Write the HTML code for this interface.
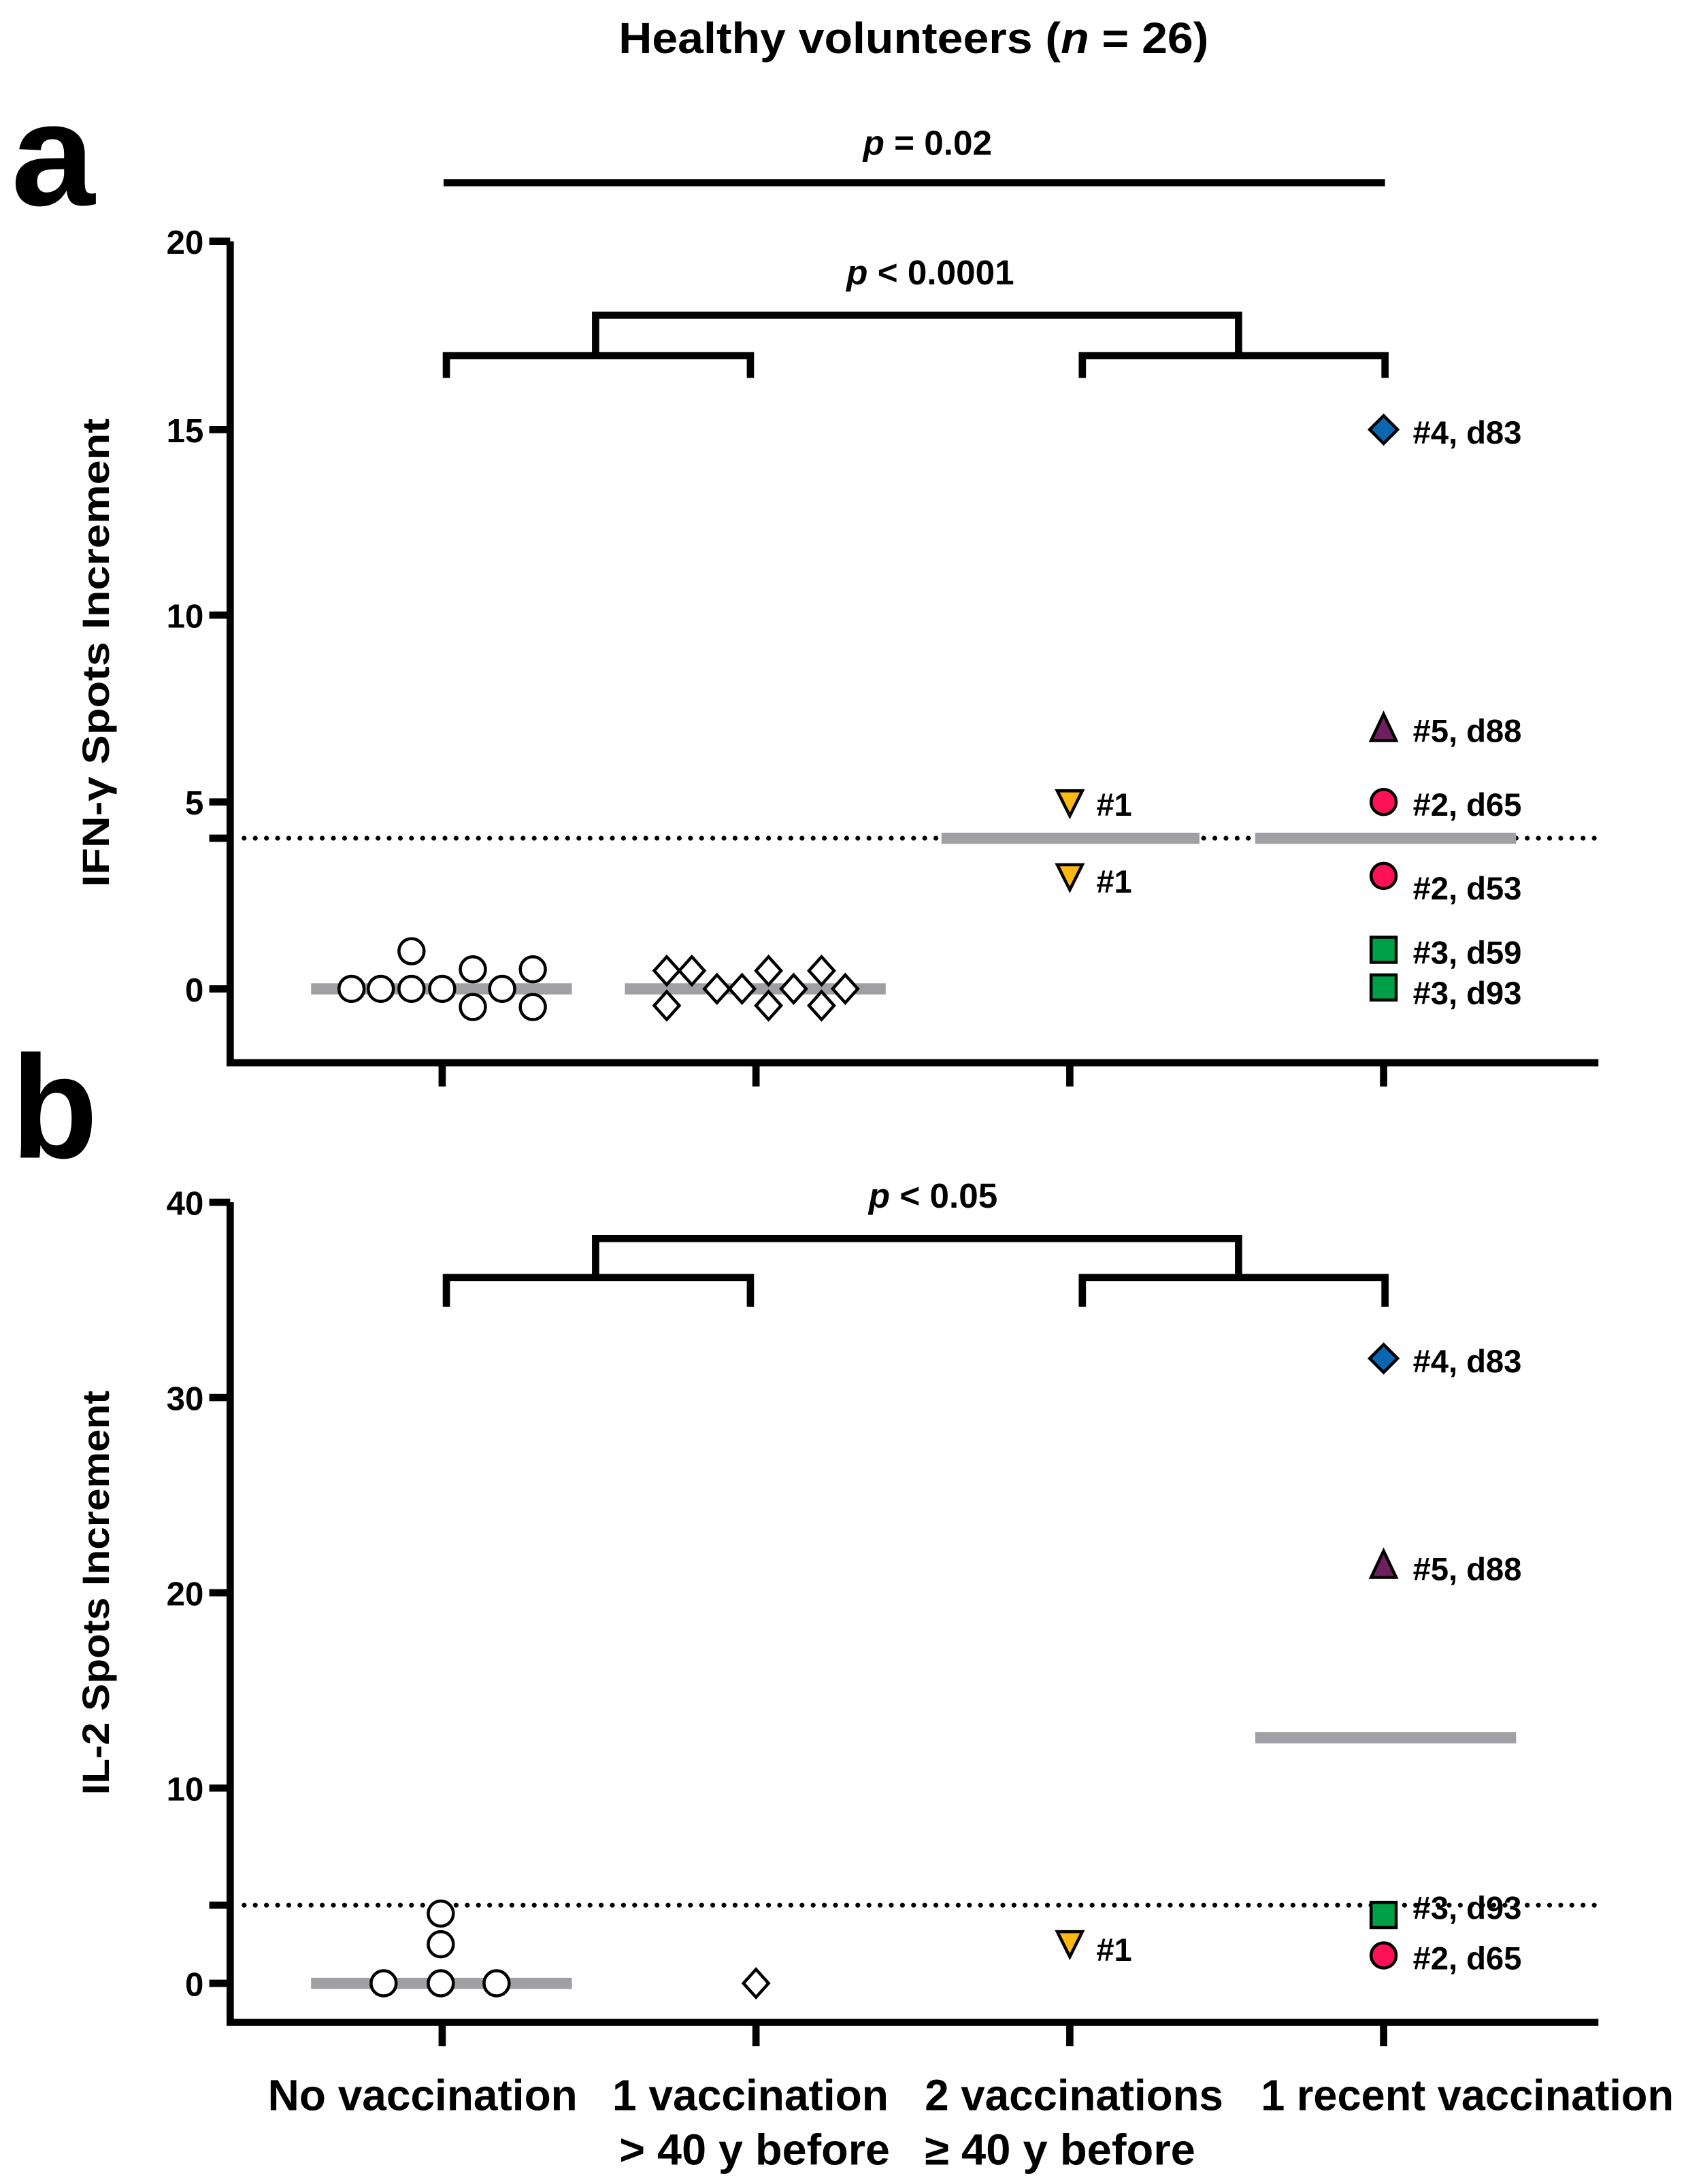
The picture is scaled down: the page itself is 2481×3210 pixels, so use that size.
<!DOCTYPE html>
<html><head><meta charset="utf-8"><style>
html,body{margin:0;padding:0;background:#fff}
svg{display:block}
text{font-family:"Liberation Sans",sans-serif;font-weight:bold;fill:#000}
</style></head><body>
<svg width="2481" height="3210" viewBox="0 0 1210.2 1565.9" xmlns="http://www.w3.org/2000/svg">
<text x="655" y="38" font-size="31" text-anchor="middle" textLength="423" lengthAdjust="spacingAndGlyphs">Healthy volunteers (<tspan font-style="italic">n</tspan> = 26)</text>
<text x="8" y="147" font-size="105" textLength="60" lengthAdjust="spacingAndGlyphs">a</text>
<text x="8" y="830" font-size="105" textLength="62" lengthAdjust="spacingAndGlyphs">b</text>

<!-- Panel a -->
<g stroke="#000" stroke-width="5.2" fill="none">
<path d="M165,173 V762 H1146"/>
<path d="M150,173 H165 M150,308 H165 M150,441 H165 M150,575 H165 M150,601 H165 M150,709 H165"/>
<path d="M317,762 V779 M542,762 V779 M767,762 V779 M992,762 V779"/>
<path d="M318,131 H993"/>
<path d="M320,271 V255 H538 V271 M427,255 V226 H888 V255 M776,271 V255 H993 V271"/>
</g>
<g font-size="24" text-anchor="end">
<text x="146" y="182">20</text><text x="146" y="317">15</text><text x="146" y="450">10</text><text x="146" y="584">5</text><text x="146" y="718">0</text>
</g>
<text x="665" y="111" font-size="25" text-anchor="middle"><tspan font-style="italic">p</tspan> = 0.02</text>
<text x="667" y="204" font-size="25" text-anchor="middle"><tspan font-style="italic">p</tspan> &lt; 0.0001</text>
<text transform="translate(78,468) rotate(-90)" font-size="27" text-anchor="middle" textLength="336" lengthAdjust="spacingAndGlyphs">IFN-γ Spots Increment</text>
<line x1="175" y1="601" x2="1146" y2="601" stroke="#000" stroke-width="3.5" stroke-dasharray="0 8" stroke-linecap="round"/>
<g stroke="#a0a0a4" stroke-width="8">
<path d="M223,709 H410 M448,709 H635 M675,601 H860 M900,601 H1087"/>
</g>
<g fill="#fff" stroke="#000" stroke-width="2.2">
<circle cx="252" cy="709" r="9"/><circle cx="273" cy="709" r="9"/><circle cx="295" cy="709" r="9"/><circle cx="295" cy="682" r="9"/><circle cx="317" cy="709" r="9"/><circle cx="339" cy="695" r="9"/><circle cx="339" cy="722" r="9"/><circle cx="360" cy="709" r="9"/><circle cx="382" cy="695" r="9"/><circle cx="382" cy="722" r="9"/>
<path d="M0,-10 L9,0 L0,10 L-9,0Z" transform="translate(478,696)"/><path d="M0,-10 L9,0 L0,10 L-9,0Z" transform="translate(478,721)"/><path d="M0,-10 L9,0 L0,10 L-9,0Z" transform="translate(496,696)"/><path d="M0,-10 L9,0 L0,10 L-9,0Z" transform="translate(514,709)"/><path d="M0,-10 L9,0 L0,10 L-9,0Z" transform="translate(532,709)"/><path d="M0,-10 L9,0 L0,10 L-9,0Z" transform="translate(551,696)"/><path d="M0,-10 L9,0 L0,10 L-9,0Z" transform="translate(551,721)"/><path d="M0,-10 L9,0 L0,10 L-9,0Z" transform="translate(569,709)"/><path d="M0,-10 L9,0 L0,10 L-9,0Z" transform="translate(589,696)"/><path d="M0,-10 L9,0 L0,10 L-9,0Z" transform="translate(589,721)"/><path d="M0,-10 L9,0 L0,10 L-9,0Z" transform="translate(606,709)"/>
</g>
<g stroke="#000" stroke-width="2.2">
<path d="M758,567 H776 L767,585Z" fill="#fdb813"/>
<path d="M758,620 H776 L767,638Z" fill="#fdb813"/>
<path d="M992,298 L1002,308 L992,318 L982,308Z" fill="#0b66b0"/>
<path d="M992,512 L1001,531 H983Z" fill="#6d1f5f"/>
<circle cx="992" cy="575" r="9" fill="#ff1155"/>
<circle cx="992" cy="628" r="9" fill="#ff1155"/>
<rect x="983" y="672" width="18" height="18" fill="#00a047"/>
<rect x="983" y="699" width="18" height="18" fill="#00a047"/>
</g>
<g font-size="23">
<text x="786" y="585">#1</text><text x="786" y="640">#1</text>
<text x="1013" y="318">#4, d83</text><text x="1013" y="532">#5, d88</text><text x="1013" y="585">#2, d65</text><text x="1013" y="645">#2, d53</text><text x="1013" y="691">#3, d59</text><text x="1013" y="720">#3, d93</text>
</g>

<!-- Panel b -->
<g stroke="#000" stroke-width="5.2" fill="none">
<path d="M165,862 V1450 H1146"/>
<path d="M150,862 H165 M150,1002 H165 M150,1142 H165 M150,1282 H165 M150,1366 H165 M150,1422 H165"/>
<path d="M317,1450 V1467 M542,1450 V1467 M767,1450 V1467 M992,1450 V1467"/>
<path d="M320,937 V916 H538 V937 M427,916 V888 H888 V916 M776,937 V916 H993 V937"/>
</g>
<g font-size="24" text-anchor="end">
<text x="146" y="871">40</text><text x="146" y="1011">30</text><text x="146" y="1151">20</text><text x="146" y="1291">10</text><text x="146" y="1431">0</text>
</g>
<text x="669" y="866" font-size="25" text-anchor="middle"><tspan font-style="italic">p</tspan> &lt; 0.05</text>
<text transform="translate(78,1142) rotate(-90)" font-size="27" text-anchor="middle" textLength="290" lengthAdjust="spacingAndGlyphs">IL-2 Spots Increment</text>
<line x1="175" y1="1366" x2="1146" y2="1366" stroke="#000" stroke-width="3.5" stroke-dasharray="0 8" stroke-linecap="round"/>
<g stroke="#a0a0a4" stroke-width="8">
<path d="M223,1422 H410 M900,1246 H1087"/>
</g>
<g fill="#fff" stroke="#000" stroke-width="2.2">
<circle cx="316" cy="1372" r="9"/><circle cx="316" cy="1394" r="9"/><circle cx="275" cy="1422" r="9"/><circle cx="316" cy="1422" r="9"/><circle cx="356" cy="1422" r="9"/>
<path d="M542,1412 L551,1422 L542,1432 L533,1422Z"/>
</g>
<g stroke="#000" stroke-width="2.2">
<path d="M758,1385 H776 L767,1403Z" fill="#fdb813"/>
<path d="M992,964 L1002,974 L992,984 L982,974Z" fill="#0b66b0"/>
<path d="M992,1112 L1001,1131 H983Z" fill="#6d1f5f"/>
<rect x="983" y="1364" width="18" height="18" fill="#00a047"/>
<circle cx="992" cy="1402" r="9" fill="#ff1155"/>
</g>
<g font-size="23">
<text x="786" y="1406">#1</text>
<text x="1013" y="984">#4, d83</text><text x="1013" y="1133">#5, d88</text><text x="1013" y="1376">#3, d93</text><text x="1013" y="1412">#2, d65</text>
</g>

<g font-size="31" text-anchor="middle">
<text x="303" y="1513" textLength="222" lengthAdjust="spacingAndGlyphs">No vaccination</text>
<text x="538" y="1513" textLength="198" lengthAdjust="spacingAndGlyphs">1 vaccination</text>
<text x="541" y="1552" textLength="194" lengthAdjust="spacingAndGlyphs">&gt; 40 y before</text>
<text x="770" y="1513" textLength="214" lengthAdjust="spacingAndGlyphs">2 vaccinations</text>
<text x="760" y="1552" textLength="194" lengthAdjust="spacingAndGlyphs">≥ 40 y before</text>
<text x="1052" y="1513" textLength="296" lengthAdjust="spacingAndGlyphs">1 recent vaccination</text>
</g>
</svg>
</body></html>
